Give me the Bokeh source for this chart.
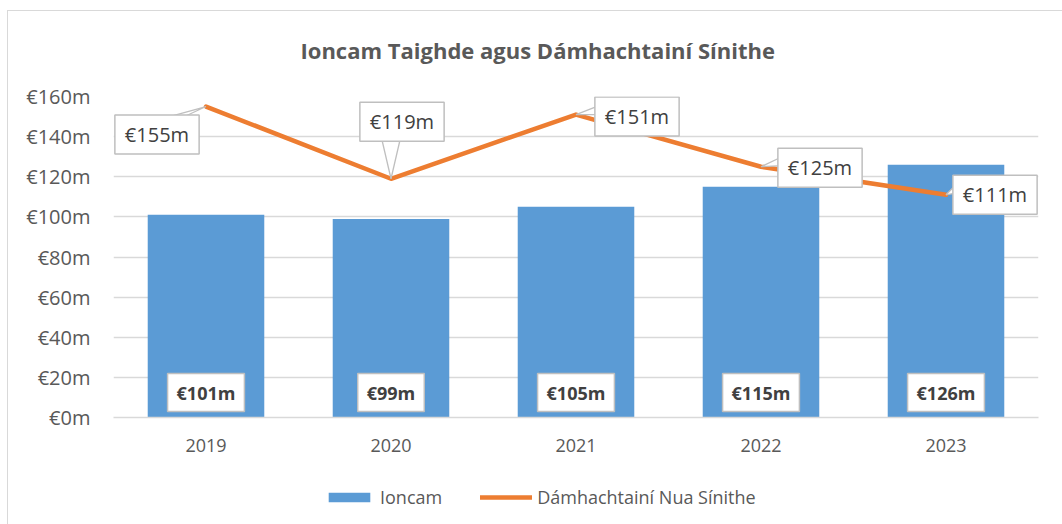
from bokeh.plotting import figure
from bokeh.layouts import column
from bokeh.models import (ColumnDataSource, FactorRange, Range1d, Label, Legend,
                          LegendItem, FixedTicker, InlineStyleSheet)
from bokeh.embed import file_html
from bokeh.resources import INLINE

# ---- data ----
years = ["2019", "2020", "2021", "2022", "2023"]
income = [101, 99, 105, 115, 126]            # Ioncam (bars)
awards = [155, 119, 151, 125, 111]           # Dámhachtainí Nua Sínithe (line)
income_labels = ["€101m", "€99m", "€105m", "€115m", "€126m"]
award_labels = ["€155m", "€119m", "€151m", "€125m", "€111m"]
y_ticks = [0, 20, 40, 60, 80, 100, 120, 140, 160]
y_tick_labels = ["€0m", "€20m", "€40m", "€60m", "€80m", "€100m", "€120m", "€140m", "€160m"]

title_text = "Ioncam Taighde agus Dámhachtainí Sínithe"
series_names = ["Ioncam", "Dámhachtainí Nua Sínithe"]

# ---- styles ----
FONT = "Open Sans"
BLUE = "#5B9BD5"
ORANGE = "#ED7D31"
GRID = "#D9D9D9"
TXT = "#595959"
LBL = "#404040"
BOX = "#BFBFBF"

FRAME_W, FRAME_H = 925, 321
Y_MAX = 160
TOTAL_W, TOTAL_H = 1062, 524
LEFT_B, TOP_B, BOT_B = 113, 96, 60

# callout box centre offsets in px (x right, y up) relative to the line point
callout_off = [(-49, -28), (11, 57), (61, -2), (59, -1), (49, 0)]
# tail base points (px, relative to box centre)
tail_base = [((-2, 14), (19, 14)), ((-21, -14), (-1, -14)),
             ((-38, 2), (-38, 11)), ((-38, 2), (-38, 11)), ((-38, 2), (-38, 11))]

p = figure(x_range=FactorRange(*years, range_padding=0), y_range=Range1d(0, Y_MAX),
           frame_width=FRAME_W, frame_height=FRAME_H,
           min_border_left=LEFT_B, min_border_right=24, min_border_top=TOP_B,
           min_border_bottom=BOT_B,
           output_backend="svg", toolbar_location=None, outline_line_color=None,
           background_fill_color="white", border_fill_color="white")

p.title.text = title_text
p.title.align = "left"
p.title.offset = 187
p.title.text_font = FONT
p.title.text_font_size = "22px"
p.title.text_font_style = "bold"
p.title.text_color = TXT
p.title.standoff = 64

src = ColumnDataSource(dict(years=years, income=income, awards=awards))
bars = p.vbar(x="years", top="income", width=0.63, source=src, color=BLUE, line_color=None)
line = p.line(x="years", y="awards", source=src, color=ORANGE, line_width=4.5,
              line_cap="round", line_join="round")

# callout tails
px_x = FRAME_W / len(years)
px_y = FRAME_H / Y_MAX
for i, (v, (dx, dy), (b1, b2)) in enumerate(zip(awards, callout_off, tail_base)):
    cx = i + 0.5
    xs = [cx, cx + (dx + b1[0]) / px_x, cx + (dx + b2[0]) / px_x]
    ys = [v, v + (dy + b1[1]) / px_y, v + (dy + b2[1]) / px_y]
    p.patch(xs, ys, fill_color="white", line_color=BOX, line_width=1.3)

# axes
p.xaxis.axis_line_color = GRID
p.xaxis.axis_line_width = 1.5
p.xaxis.major_tick_line_color = None
p.xaxis.minor_tick_line_color = None
p.xaxis.major_label_text_font = FONT
p.xaxis.major_label_text_font_size = "18px"
p.xaxis.major_label_text_color = TXT
p.xaxis.major_label_standoff = 15

p.yaxis.axis_line_color = None
p.yaxis.major_tick_line_color = None
p.yaxis.minor_tick_line_color = None
p.yaxis.ticker = FixedTicker(ticks=y_ticks)
p.yaxis.major_label_overrides = {t: l for t, l in zip(y_ticks, y_tick_labels)}
p.yaxis.major_label_text_font = FONT
p.yaxis.major_label_text_font_size = "20px"
p.yaxis.major_label_text_color = TXT
p.yaxis.major_label_standoff = 17

p.xgrid.grid_line_color = None
p.ygrid.grid_line_color = GRID
p.ygrid.grid_line_width = 1.5
p.ygrid.ticker = FixedTicker(ticks=y_ticks)

# bar value labels (x in synthetic categorical coordinates: centre of factor i = i + 0.5)
for i, txt in enumerate(income_labels):
    p.add_layout(Label(x=i + 0.5, y=0, text=txt, text_align="center", text_baseline="bottom",
                       y_offset=6, text_font=FONT, text_font_size="18px",
                       text_font_style="bold", text_color=LBL,
                       background_fill_color="white", border_line_color=BOX,
                       border_line_width=1.5, padding=(9, 7)))

# line callouts
for i, (v, txt, (dx, dy)) in enumerate(zip(awards, award_labels, callout_off)):
    p.add_layout(Label(x=i + 0.5, y=v, text=txt, text_align="center", text_baseline="middle",
                       x_offset=dx, y_offset=dy, text_font=FONT, text_font_size="20px",
                       text_color=LBL, background_fill_color="white",
                       border_line_color=BOX, border_line_width=1.5, padding=(10, 6)))

# ---- legend strip below the chart (hidden copies of the two series feed the legend) ----
leg_h = TOTAL_H - (TOP_B + FRAME_H + BOT_B)
p2 = figure(x_range=FactorRange(*years), y_range=Range1d(0, Y_MAX),
            width=TOTAL_W, height=leg_h, min_border=0, x_axis_type=None, y_axis_type=None,
            output_backend="svg", toolbar_location=None, outline_line_color=None,
            background_fill_color="white", border_fill_color="white")
p2.grid.visible = False
leg_bar = p2.vbar(x=years, top=income, width=0.63, color=BLUE, line_color=None, visible=False)
leg_line = p2.line(x=years, y=awards, color=ORANGE, line_width=4.5, line_cap="round",
                   visible=False)

legend = Legend(items=[LegendItem(label=series_names[0], renderers=[leg_bar]),
                       LegendItem(label=series_names[1], renderers=[leg_line])],
                orientation="horizontal", location=(323 - LEFT_B, 15), border_line_color=None,
                background_fill_alpha=0, inactive_fill_alpha=0,
                glyph_width=52, glyph_height=12, spacing=38, label_standoff=5,
                label_text_font=FONT, label_text_font_size="18px", label_text_color=TXT,
                margin=0, padding=0)
p2.add_layout(legend)

border_css = InlineStyleSheet(css=""":host::after {
  content: ""; position: absolute; left: 7px; top: 10px; right: 0; bottom: 0;
  border-left: 1px solid #D9D9D9; border-top: 1px solid #D9D9D9; pointer-events: none;
}""")
layout = column(p, p2, spacing=0, stylesheets=[border_css])
open("out.html", "w").write(file_html(layout, INLINE))
